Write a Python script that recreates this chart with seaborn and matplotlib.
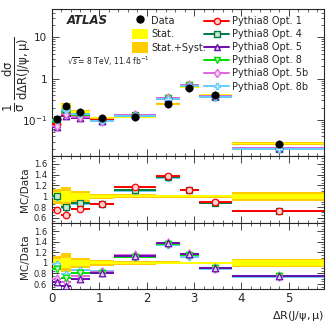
import numpy as np
import pandas as pd
import matplotlib
matplotlib.use("Agg")
import matplotlib.pyplot as plt
from matplotlib.lines import Line2D
from matplotlib.patches import Patch
from matplotlib.ticker import MultipleLocator, LogLocator, NullFormatter, FixedLocator, FixedFormatter
import seaborn as sns

sns.set_style("ticks")
plt.rcParams['font.family'] = ['DejaVu Sans']

# ---------------- data ----------------
bin_edges = [0, 0.2, 0.4, 0.8, 1.3, 2.2, 2.7, 3.1, 3.8, 5.8]
data_xsec = [0.105, 0.22, 0.16, 0.114, 0.116, 0.245, 0.61, 0.41, 0.027]
stat_rel = [0.08, 0.10, 0.06, 0.03, 0.02, 0.02, 0.015, 0.015, 0.05]
tot_rel = [0.14, 0.18, 0.10, 0.05, 0.04, 0.03, 0.025, 0.025, 0.08]

opt1 = [0.079, 0.143, 0.123, 0.098, 0.136, 0.336, 0.683, 0.365, 0.0197]
opt4 = [0.106, 0.176, 0.139, 0.097, 0.129, 0.331, 0.677, 0.361, 0.0194]
opt5 = [0.068, 0.123, 0.112, 0.093, 0.131, 0.338, 0.708, 0.373, 0.0205]
opt8 = [0.092, 0.158, 0.128, 0.093, 0.128, 0.333, 0.702, 0.373, 0.0205]
opt5b = [0.0735, 0.139, 0.120, 0.095, 0.133, 0.336, 0.708, 0.373, 0.0205]
opt8b = [0.103, 0.174, 0.138, 0.097, 0.128, 0.328, 0.677, 0.361, 0.0197]

labels = ["Pythia8 Opt. 1", "Pythia8 Opt. 4", "Pythia8 Opt. 5",
          "Pythia8 Opt. 8", "Pythia8 Opt. 5b", "Pythia8 Opt. 8b"]
x_ticks = [0, 1, 2, 3, 4, 5]
ratio_ticks = [0.6, 0.8, 1.0, 1.2, 1.4, 1.6]
ratio_ticklabels = ["0.6", "0.8", "1", "1.2", "1.4", "1.6"]

# ---------------- styles ----------------
series = {
    labels[0]: dict(v=opt1, c="#ff0000", m="o", fc="#ffd0d0"),
    labels[1]: dict(v=opt4, c="#007a3d", m="s", fc="#c8e8d0"),
    labels[2]: dict(v=opt5, c="#6a0dad", m="^", fc="#e0d0f0"),
    labels[3]: dict(v=opt8, c="#00dd00", m="v", fc="#d0f8d0"),
    labels[4]: dict(v=opt5b, c="#e066e0", m="d", fc="#f8d8f8"),
    labels[5]: dict(v=opt8b, c="#66ccff", m="P", fc="#e0f4ff"),
}
YEL = "#ffff00"
ORA = "#ffcc00"

edges = np.array(bin_edges)
lo, hi = edges[:-1], edges[1:]
ctr = 0.5 * (lo + hi)
wid = hi - lo
dat = np.array(data_xsec)

fig = plt.figure(figsize=(3.27, 3.24), dpi=100)
L, R = 0.159, 0.992
ax0 = fig.add_axes([L, 0.5194, R - L, 0.9713 - 0.5194])
ax1 = fig.add_axes([L, 0.3108, R - L, 0.5194 - 0.3108], sharex=ax0)
ax2 = fig.add_axes([L, 0.1071, R - L, 0.3108 - 0.1071], sharex=ax0)

FS = 7

# ---- top panel ----
tot = np.array(tot_rel); st = np.array(stat_rel)
ax0.bar(lo, 2 * tot * dat, bottom=dat * (1 - tot), width=wid, align="edge",
        color=ORA, linewidth=0, zorder=1)
ax0.bar(lo, 2 * st * dat, bottom=dat * (1 - st), width=wid, align="edge",
        color=YEL, linewidth=0, zorder=2)
for name, s in series.items():
    v = np.array(s["v"])
    ax0.hlines(v, lo, hi, color=s["c"], lw=1.4, zorder=3)
    sns.scatterplot(x=ctr, y=v, marker=s["m"], s=22, color=s["fc"],
                    edgecolor=s["c"], linewidth=0.9, ax=ax0, zorder=4, legend=False)
sns.scatterplot(x=ctr, y=dat, marker="o", s=28, color="black", edgecolor="black",
                ax=ax0, zorder=6, legend=False)
ax0.set_yscale("log")
ax0.set_ylim(0.0137, 48)
ax0.set_xlim(0, 5.75)

# ---- ratio panels ----
ratio_groups = [
    [labels[0], labels[1], labels[5]],
    [labels[2], labels[3], labels[4], labels[5]],
]
for ax, grp in zip([ax1, ax2], ratio_groups):
    ax.bar(lo, 2 * tot, bottom=1 - tot, width=wid, align="edge",
           color=ORA, linewidth=0, zorder=1)
    ax.bar(lo, 2 * st, bottom=1 - st, width=wid, align="edge",
           color=YEL, linewidth=0, zorder=2)
    for name in grp[::-1]:
        s = series[name]
        r = np.array(s["v"]) / dat
        ax.hlines(r, lo, hi, color=s["c"], lw=1.4, zorder=3)
        sns.scatterplot(x=ctr, y=r, marker=s["m"], s=22, color=s["fc"],
                        edgecolor=s["c"], linewidth=0.9, ax=ax, zorder=4, legend=False)
    ax.set_ylim(0.5, 1.75)
    ax.yaxis.set_major_locator(FixedLocator(ratio_ticks))
    ax.yaxis.set_major_formatter(FixedFormatter(ratio_ticklabels))
    ax.yaxis.set_minor_locator(MultipleLocator(0.05))
    ax.set_ylabel("MC/Data", fontsize=7.5, labelpad=3)

for ax in [ax0, ax1, ax2]:
    ax.xaxis.set_major_locator(FixedLocator(x_ticks))
    ax.xaxis.set_minor_locator(MultipleLocator(0.2))
    ax.tick_params(which="both", direction="in", top=True, right=True, labelsize=6)
    ax.tick_params(which="major", length=5, width=0.6)
    ax.tick_params(which="minor", length=2.5, width=0.5)
    for sp in ax.spines.values():
        sp.set_linewidth(0.8)
    ax.set_xlabel("")
ax0.tick_params(axis="y", labelsize=7.5)
ax0.yaxis.set_minor_formatter(NullFormatter())
ax0.set_yticks([0.1, 1, 10])
ax0.set_yticklabels([r"$10^{-1}$", "1", "10"])
ax0.yaxis.set_minor_locator(LogLocator(base=10, subs=np.arange(2, 10)))
ax0.set_ylabel("")
ax0.tick_params(axis="x", labelbottom=False)
ax1.tick_params(axis="x", labelbottom=False)
ax2.tick_params(axis="x", labelsize=8.5, pad=2)

fig.text(0.5 / 327, 1 - 74 / 324,
         r"$\mathregular{\frac{1}{\sigma}\,\frac{d\sigma}{d\Delta R(J/\psi,\mu)}}$",
         rotation=90, fontsize=12, ha="left", va="center")
fig.text(0.992, 1 / 324, r"$\mathregular{\Delta R(J/\psi,\mu)}$", ha="right",
         va="bottom", fontsize=8)

# texts
fig.text(67 / 327, 1 - 21 / 324, "ATLAS", fontsize=8.5, fontweight="bold",
         fontstyle="italic", ha="left", va="center")
fig.text(67 / 327, 1 - 61 / 324, r"$\sqrt{s}$= 8 TeV, 11.4 fb$^{-1}$", fontsize=5.5,
         ha="left", va="center")

# legends
h_left = [Line2D([], [], marker="o", color="black", ls="none", markersize=5),
          Patch(facecolor=YEL, edgecolor="none"),
          Patch(facecolor=ORA, edgecolor="none")]
leg1 = fig.legend(h_left, ["Data", "Stat.", "Stat.+Syst."], loc="upper left",
                  bbox_to_anchor=(132 / 327, 1 - 15 / 324), frameon=False, fontsize=FS,
                  handlelength=1.6, handleheight=1.3, handletextpad=0.4,
                  labelspacing=0.3, borderpad=0, borderaxespad=0)
h_right = [Line2D([], [], color=s["c"], marker=s["m"], markersize=4.5,
                  markerfacecolor=s["fc"], markeredgecolor=s["c"], lw=1.4)
           for s in series.values()]
leg2 = fig.legend(h_right, labels, loc="upper left",
                  bbox_to_anchor=(204 / 327, 1 - 16 / 324), frameon=False, fontsize=FS,
                  handlelength=2.6, handletextpad=0.25, labelspacing=0.32,
                  borderpad=0, borderaxespad=0)

fig.savefig("out.png", dpi=100)
